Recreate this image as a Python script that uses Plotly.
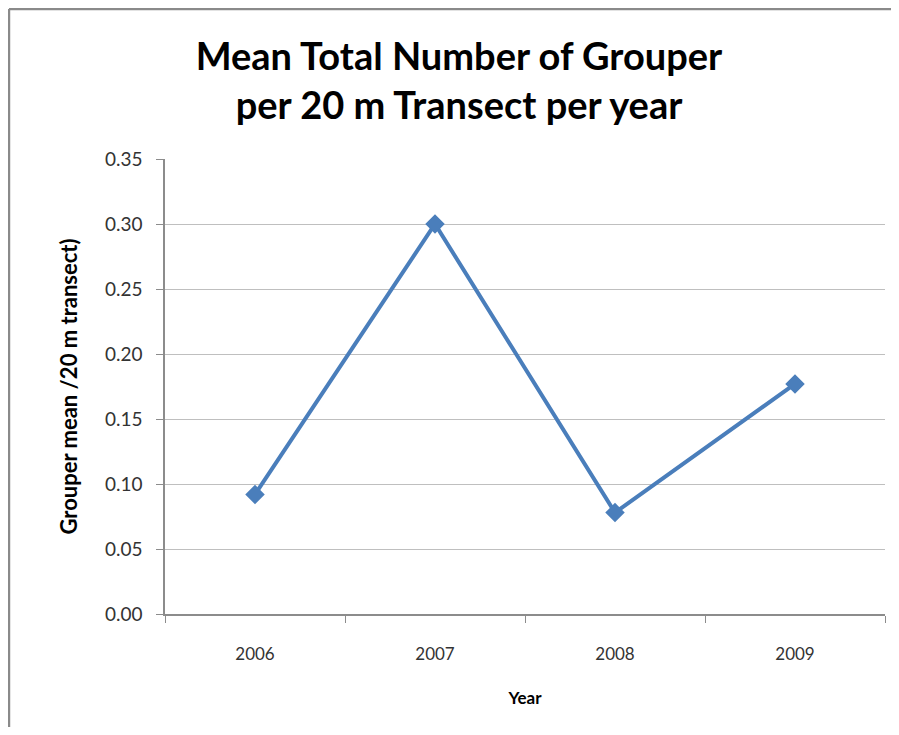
import plotly.graph_objects as go

# mean grouper count per 20 m transect
years = ["2006", "2007", "2008", "2009"]
grouper_mean = [0.092, 0.300, 0.078, 0.177]

y_ticks = [0.00, 0.05, 0.10, 0.15, 0.20, 0.25, 0.30, 0.35]

blue = "#4a7ebb"
font_name = "Lato"

# the page adds an 8px body margin on each side, keep the figure inside the window
fig_w, fig_h = 883, 719

fig = go.Figure()
fig.add_trace(go.Scatter(
    x=years,
    y=grouper_mean,
    mode="lines+markers",
    line=dict(color=blue, width=4),
    marker=dict(symbol="diamond", size=15, color=blue),
    showlegend=False,
))

fig.update_layout(
    width=fig_w,
    height=fig_h,
    paper_bgcolor="white",
    plot_bgcolor="white",
    margin=dict(l=157, r=6, t=151, b=113, autoexpand=False),
    font=dict(family=font_name, color="#333333"),
    title=dict(
        text="Mean Total Number of Grouper<br>per 20 m Transect per year",
        font=dict(family=font_name, size=38, color="black", weight="bold"),
        x=451 / fig_w, xanchor="center",
        y=1 - 62 / fig_h, yanchor="middle", yref="container",
        automargin=False,
    ),
)

fig.update_xaxes(
    type="category",
    range=[-0.5, 3.5],
    showgrid=False,
    showline=True, linecolor="#8c8c8c", linewidth=1.5,
    ticks="outside", tickson="boundaries", ticklen=7, tickcolor="#8c8c8c",
    tickfont=dict(size=17, color="#333333"),
    ticklabelstandoff=24,
    automargin=False,
    title=dict(text="<b>Year</b>", font=dict(size=17, color="black"), standoff=29),
)

fig.update_yaxes(
    range=[0, 0.35],
    tickvals=y_ticks,
    tickformat=".2f",
    showgrid=True, gridcolor="#bfbfbf", gridwidth=1.3,
    showline=True, linecolor="#8c8c8c", linewidth=1.5,
    ticks="outside", ticklen=7, tickcolor="#8c8c8c",
    tickfont=dict(size=19, color="#333333"),
    ticklabelstandoff=10,
    zeroline=False,
    automargin=False,
    title=dict(text="<b>Grouper mean /20 m transect)</b>",
               font=dict(size=22, color="black"), standoff=21),
)

# outer chart frame: only the top and left edges show in the original
frame = dict(color="#8a8a8a", width=2.5)
fig.add_shape(type="line", xref="paper", yref="paper",
              x0=-0.2167, x1=1.05, y0=1.3297, y1=1.3297, line=frame, layer="below")
fig.add_shape(type="line", xref="paper", yref="paper",
              x0=-0.2167, x1=-0.2167, y0=-0.3, y1=1.3297, line=frame, layer="below")

fig.write_html("out.html")
